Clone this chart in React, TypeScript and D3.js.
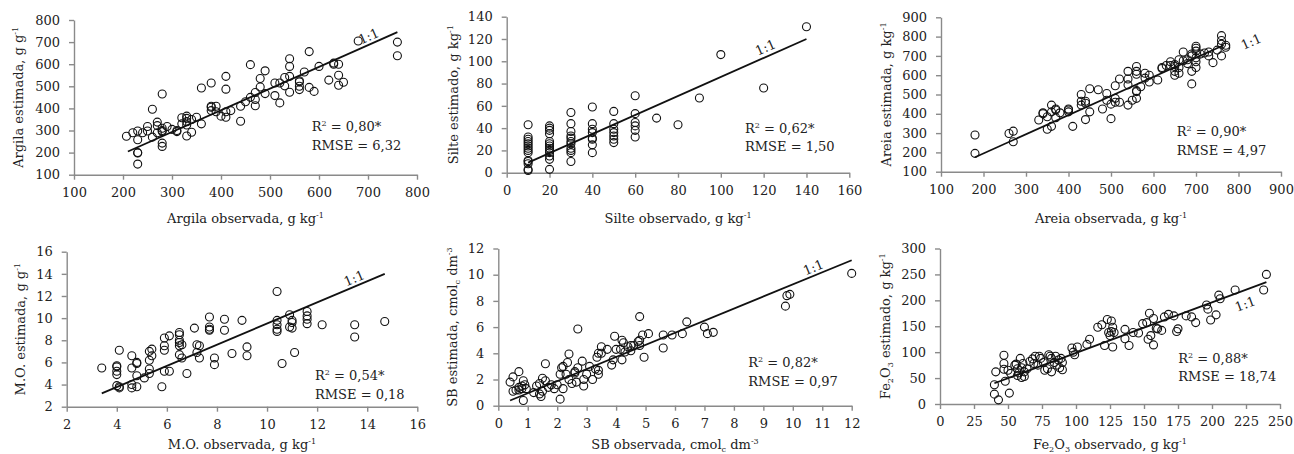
import * as d3 from 'd3'
import { useEffect, useRef } from 'react'

const FONT = '"DejaVu Serif", serif'

// ---- Argila ----
const argilaTicksX = [100, 200, 300, 400, 500, 600, 700, 800]
const argilaTicksY = [100, 200, 300, 400, 500, 600, 700, 800]
const argilaFit = [[210, 205], [760, 745]]
const argilaStats = ['0,80*', '6,32']
const argilaPoints = [
  [207, 274], [220, 290], [230, 298], [230, 258], [230, 200], [230, 198], [230, 148], [240, 290],
  [250, 318], [250, 298], [260, 396], [260, 270], [270, 338], [270, 322], [270, 290], [280, 465],
  [280, 310], [280, 300], [280, 295], [280, 243], [280, 228], [290, 318], [300, 305], [310, 300],
  [310, 295], [320, 358], [320, 330], [330, 365], [330, 355], [330, 340], [330, 325], [330, 275],
  [340, 350], [340, 292], [350, 360], [360, 492], [360, 330], [380, 515], [380, 410], [380, 405],
  [380, 390], [390, 410], [390, 385], [400, 365], [410, 545], [410, 487], [410, 385], [410, 360],
  [420, 390], [440, 410], [440, 342], [450, 430], [460, 598], [460, 450], [470, 472], [470, 440],
  [470, 412], [480, 535], [480, 497], [490, 570], [490, 467], [510, 515], [510, 458], [520, 515],
  [520, 425], [530, 540], [530, 502], [540, 625], [540, 590], [540, 545], [540, 473], [560, 525],
  [560, 520], [560, 500], [560, 485], [570, 565], [580, 657], [580, 495], [590, 477], [600, 590],
  [620, 528], [630, 600], [630, 605], [640, 600], [640, 550], [640, 505], [650, 518], [680, 705],
  [760, 700], [760, 638],
]

// ---- Silte ----
const silteTicksX = [0, 20, 40, 60, 80, 100, 120, 140, 160]
const silteTicksY = [0, 20, 40, 60, 80, 100, 120, 140]
const silteFit = [[10, 9], [140, 120]]
const silteStats = ['0,62*', '1,50']
const silteObs = [10, 20, 30, 40, 50, 60]
const silteEstByObs = [
  [43, 32, 30, 28, 26, 24, 22, 20, 18, 11, 10, 8, 3, 2],
  [42, 40, 38, 35, 28, 26, 24, 22, 20, 18, 15, 12, 3],
  [54, 44, 37, 33, 31, 28, 26, 22, 20, 18, 10],
  [59, 44, 39, 36, 31, 30, 25, 18],
  [55, 44, 39, 36, 33, 30, 27],
  [69, 53, 45, 42, 38, 32],
]
const silteSingles = [[70, 49], [80, 43], [90, 67], [100, 106], [120, 76], [140, 131]]

// ---- Areia ----
const areiaTicksX = [100, 200, 300, 400, 500, 600, 700, 800, 900]
const areiaTicksY = [100, 200, 300, 400, 500, 600, 700, 800, 900]
const areiaFit = [[180, 175], [765, 755]]
const areiaStats = ['0,90*', '4,97']
const areiaPoints = [
  [180, 290], [180, 195], [260, 298], [270, 310], [270, 255], [330, 368], [340, 405], [340, 400],
  [350, 385], [350, 320], [360, 445], [360, 410], [360, 335], [370, 425], [370, 420], [370, 380],
  [380, 405], [400, 425], [400, 420], [400, 410], [410, 335], [430, 500], [430, 465], [430, 445],
  [440, 465], [440, 455], [440, 370], [450, 530], [450, 410], [470, 525], [480, 425], [490, 505],
  [490, 470], [500, 450], [500, 375], [510, 545], [510, 480], [510, 460], [520, 580], [520, 460],
  [540, 620], [540, 580], [540, 550], [540, 445], [550, 470], [560, 645], [560, 620], [560, 605],
  [560, 520], [560, 515], [560, 480], [570, 540], [580, 610], [580, 585], [590, 600], [590, 565],
  [610, 575], [620, 640], [620, 635], [630, 650], [640, 670], [640, 650], [650, 655], [650, 645],
  [650, 620], [650, 600], [660, 680], [660, 640], [660, 610], [670, 720], [670, 675], [680, 680],
  [680, 660], [690, 710], [690, 700], [690, 620], [690, 555], [700, 750], [700, 740], [700, 725],
  [700, 690], [700, 670], [700, 640], [710, 710], [720, 715], [730, 720], [730, 700], [740, 665],
  [750, 730], [760, 805], [760, 780], [760, 760], [760, 700], [770, 755], [770, 745],
]

// ---- M.O. ----
const moTicksX = [2, 4, 6, 8, 10, 12, 14, 16]
const moTicksY = [2, 4, 6, 8, 10, 12, 14, 16]
const moFit = [[3.4, 3.2], [14.7, 14.0]]
const moStats = ['0,54*', '0,18']
const moPoints = [
  [3.4, 5.5], [4.0, 5.7], [4.0, 5.6], [4.0, 5.2], [4.0, 4.9], [4.0, 3.9], [4.1, 7.1], [4.1, 3.8],
  [4.1, 3.7], [4.6, 6.6], [4.6, 5.5], [4.6, 4.0], [4.6, 3.7], [4.8, 6.0], [4.8, 5.9], [4.8, 4.8],
  [4.8, 3.8], [5.1, 4.6], [5.3, 7.0], [5.3, 6.2], [5.3, 5.4], [5.3, 5.0], [5.4, 7.2], [5.4, 6.6],
  [5.8, 3.8], [5.9, 8.2], [5.9, 7.5], [5.9, 7.1], [5.9, 5.2], [6.1, 8.4], [6.1, 5.2], [6.5, 8.7],
  [6.5, 8.5], [6.5, 8.0], [6.5, 7.8], [6.5, 7.5], [6.5, 6.7], [6.6, 7.6], [6.6, 6.4], [6.8, 5.0],
  [7.1, 9.1], [7.2, 7.6], [7.2, 6.9], [7.3, 7.5], [7.3, 6.4], [7.7, 10.1], [7.7, 9.2], [7.7, 9.0],
  [7.7, 8.9], [7.9, 6.4], [7.9, 5.8], [8.3, 9.9], [8.3, 8.9], [8.6, 6.8], [9.0, 9.8], [9.2, 7.4],
  [9.2, 6.6], [10.4, 12.4], [10.4, 9.8], [10.4, 9.4], [10.4, 9.0], [10.4, 8.8], [10.6, 5.9],
  [10.9, 10.3], [10.9, 9.2], [11.0, 9.8], [11.0, 9.6], [11.0, 9.1], [11.1, 6.9], [11.6, 10.6],
  [11.6, 10.2], [11.6, 9.9], [11.6, 9.5], [12.2, 9.4], [13.5, 9.4], [13.5, 8.3], [14.7, 9.7],
]

// ---- SB ----
const sbTicksX = [0, 1, 2, 3, 4, 5, 6, 7, 8, 9, 10, 11, 12]
const sbTicksY = [0, 2, 4, 6, 8, 10, 12]
const sbFit = [[0.4, 0.4], [12.0, 11.1]]
const sbStats = ['0,82*', '0,97']
const sbPoints = [
  [0.4, 1.8], [0.5, 2.2], [0.5, 1.1], [0.6, 1.2], [0.7, 2.6], [0.7, 1.4], [0.7, 1.2], [0.8, 1.5],
  [0.8, 1.3], [0.85, 1.9], [0.85, 0.4], [0.9, 1.6], [0.95, 1.3], [1.2, 1.0], [1.3, 1.5], [1.4, 1.7],
  [1.4, 0.9], [1.45, 0.7], [1.5, 2.1], [1.5, 1.1], [1.6, 3.2], [1.6, 1.9], [1.7, 1.4], [1.8, 1.6],
  [1.9, 1.3], [2.0, 1.6], [2.1, 2.4], [2.1, 0.5], [2.15, 2.9], [2.2, 3.0], [2.2, 1.3], [2.3, 2.4],
  [2.35, 3.3], [2.4, 3.95], [2.4, 2.0], [2.5, 1.7], [2.6, 2.6], [2.6, 2.5], [2.65, 1.8], [2.7, 5.85],
  [2.7, 2.9], [2.85, 3.4], [2.9, 2.0], [2.9, 1.5], [3.0, 2.4], [3.1, 3.0], [3.2, 2.0], [3.3, 2.8],
  [3.35, 3.7], [3.4, 4.0], [3.4, 2.7], [3.4, 2.4], [3.5, 4.5], [3.5, 4.0], [3.7, 4.3], [3.85, 3.1],
  [3.9, 3.5], [3.95, 5.3], [4.0, 4.3], [4.15, 4.3], [4.2, 5.0], [4.25, 4.8], [4.2, 3.5], [4.3, 4.1],
  [4.4, 4.5], [4.5, 4.6], [4.5, 4.2], [4.6, 4.6], [4.75, 4.9], [4.8, 6.8], [4.8, 5.0], [4.8, 4.6],
  [4.9, 5.4], [4.95, 3.7], [5.1, 5.5], [5.6, 5.4], [5.6, 4.4], [5.9, 5.4], [6.25, 5.5], [6.4, 6.4],
  [7.0, 6.0], [7.1, 5.5], [7.3, 5.6], [9.75, 7.6], [9.8, 8.4], [9.9, 8.5], [12.0, 10.1],
]

// ---- Fe2O3 ----
const feTicksX = [0, 25, 50, 75, 100, 125, 150, 175, 200, 225, 250]
const feTicksY = [0, 50, 100, 150, 200, 250, 300]
const feFit = [[40, 40], [240, 235]]
const feStats = ['0,88*', '18,74']
const fePoints = [
  [40, 37], [40, 19], [41, 62], [43, 8], [47, 94], [47, 78], [47, 67], [48, 44], [50, 65], [51, 21],
  [52, 59], [55, 75], [56, 77], [57, 68], [57, 55], [58, 60], [59, 88], [60, 70], [60, 51], [61, 78],
  [62, 62], [62, 53], [64, 68], [66, 82], [68, 87], [69, 78], [70, 92], [72, 75], [73, 92], [74, 88],
  [76, 80], [77, 65], [79, 68], [80, 95], [81, 92], [82, 88], [82, 62], [84, 80], [85, 92], [86, 75],
  [87, 85], [88, 70], [89, 88], [90, 80], [90, 66], [97, 108], [98, 100], [99, 95], [101, 110],
  [108, 115], [110, 125], [116, 148], [119, 153], [121, 113], [123, 163], [124, 138], [125, 132],
  [126, 160], [126, 140], [127, 148], [127, 110], [128, 138], [136, 144], [136, 126], [139, 113],
  [142, 138], [146, 137], [149, 155], [152, 157], [153, 125], [154, 175], [155, 132], [157, 165],
  [157, 114], [159, 146], [160, 145], [163, 142], [165, 168], [168, 173], [172, 170], [174, 140],
  [175, 145], [181, 170], [185, 168], [188, 157], [196, 191], [197, 183], [199, 162], [203, 172],
  [205, 210], [206, 203], [217, 220], [238, 220], [240, 250],
]

const sup = (t) => [t, 'sup']
const sub = (t) => [t, 'sub']
const txt = (t) => [t, '']

const panels = [
  {
    points: argilaPoints, fit: argilaFit, stats: argilaStats,
    xTicks: argilaTicksX, yTicks: argilaTicksY,
    xTitle: [txt('Argila observada, g kg'), sup('-1')],
    yTitle: [txt('Argila estimada, g g'), sup('-1')],
    box: { left: 74, right: 417, top: 20, bottom: 174.7 },
    yTitleX: 22.5, xTitleY: 223, statX: 311.7, statY: 131.2, labelX: 708, labelOff: 8,
  },
  {
    points: [...silteObs.flatMap((o, i) => silteEstByObs[i].map((e) => [o, e])), ...silteSingles],
    fit: silteFit, stats: silteStats,
    xTicks: silteTicksX, yTicks: silteTicksY,
    xTitle: [txt('Silte observado, g kg'), sup('-1')],
    yTitle: [txt('Silte estimado, g kg'), sup('-1')],
    box: { left: 506.7, right: 849.3, top: 16.7, bottom: 172.7 },
    yTitleX: 457.5, xTitleY: 223, statX: 745, statY: 132.8, labelX: 122.5, labelOff: 9,
  },
  {
    points: areiaPoints, fit: areiaFit, stats: areiaStats,
    xTicks: areiaTicksX, yTicks: areiaTicksY,
    xTitle: [txt('Areia observada, g kg'), sup('-1')],
    yTitle: [txt('Areia estimada, g kg'), sup('-1')],
    box: { left: 941, right: 1281, top: 17.3, bottom: 171.7 },
    yTitleX: 890.5, xTitleY: 223, statX: 1176.7, statY: 136.2, labelX: 822, labelOff: -8,
  },
  {
    points: moPoints, fit: moFit, stats: moStats,
    xTicks: moTicksX, yTicks: moTicksY,
    xTitle: [txt('M.O. observada, g kg'), sup('-1')],
    yTitle: [txt('M.O. estimada, g g'), sup('-1')],
    box: { left: 66.7, right: 417.3, top: 251.7, bottom: 406.7 },
    yTitleX: 25, xTitleY: 449, statX: 315, statY: 380.2, labelX: 13.6, labelOff: 8,
  },
  {
    points: sbPoints, fit: sbFit, stats: sbStats,
    xTicks: sbTicksX, yTicks: sbTicksY,
    xTitle: [txt('SB observada, cmol'), sub('c'), txt(' dm'), sup('-3')],
    yTitle: [txt('SB estimada, cmol'), sub('c'), txt(' dm'), sup('-3')],
    box: { left: 498.3, right: 851.7, top: 248.5, bottom: 405.7 },
    yTitleX: 457, xTitleY: 449, statX: 748.3, statY: 367.2, labelX: 10.8, labelOff: 8,
  },
  {
    points: fePoints, fit: feFit, stats: feStats,
    xTicks: feTicksX, yTicks: feTicksY,
    xTitle: [txt('Fe'), sub('2'), txt('O'), sub('3'), txt(' observado, g kg'), sup('-1')],
    yTitle: [txt('Fe'), sub('2'), txt('O'), sub('3'), txt(' estimado, g kg'), sup('-1')],
    box: { left: 940, right: 1280, top: 248.5, bottom: 404 },
    yTitleX: 890, xTitleY: 449, statX: 1178.3, statY: 362.8, labelX: 221, labelOff: -13,
  },
]

function writeParts(sel, parts, size) {
  let shift = 0
  parts.forEach(([t, k]) => {
    const target = k === 'sup' ? -5 : k === 'sub' ? 2.5 : 0
    sel
      .append('tspan')
      .attr('dy', target - shift)
      .attr('font-size', k ? size * 0.62 : size)
      .text(t)
    shift = target
  })
}

const Panel = ({ p }) => {
  const ref = useRef(null)

  useEffect(() => {
    const g = d3.select(ref.current)
    g.selectAll('*').remove()
    const { left, right, top, bottom } = p.box
    const x = d3.scaleLinear().domain(d3.extent(p.xTicks)).range([left, right])
    const y = d3.scaleLinear().domain(d3.extent(p.yTicks)).range([bottom, top])
    const fs = 13

    // axes
    const xa = g
      .append('g')
      .attr('transform', `translate(0, ${bottom})`)
      .call(d3.axisBottom(x).tickValues(p.xTicks).tickSize(5).tickSizeOuter(0).tickPadding(8))
    const ya = g
      .append('g')
      .attr('transform', `translate(${left}, 0)`)
      .call(d3.axisLeft(y).tickValues(p.yTicks).tickSize(5).tickSizeOuter(0).tickPadding(9))
    ;[xa, ya].forEach((a) => {
      a.select('.domain').attr('stroke', '#8a8a8a').attr('stroke-width', 1.4)
      a.selectAll('.tick line').attr('stroke', '#8a8a8a').attr('stroke-width', 1.4)
      a.selectAll('.tick text').attr('fill', '#222').style('font-family', FONT).style('font-size', fs + 'px')
    })
    xa.attr('font-size', null).attr('font-family', null)
    ya.attr('font-size', null).attr('font-family', null)

    // fitted line
    const [[x0, y0], [x1, y1]] = p.fit
    g.append('line')
      .attr('x1', x(x0)).attr('y1', y(y0))
      .attr('x2', x(x1)).attr('y2', y(y1))
      .attr('stroke', '#111')
      .attr('stroke-width', 1.8)

    // points
    g.append('g')
      .selectAll('circle')
      .data(p.points)
      .join('circle')
      .attr('cx', (d) => x(d[0]))
      .attr('cy', (d) => y(d[1]))
      .attr('r', 4)
      .attr('fill', 'none')
      .attr('stroke', '#111')
      .attr('stroke-width', 1.1)

    // 1:1 label along the line
    const slope = (y1 - y0) / (x1 - x0)
    const lx = x(p.labelX)
    const ly = y(y0 + slope * (p.labelX - x0))
    const ang = (Math.atan2(y(y1) - y(y0), x(x1) - x(x0)) * 180) / Math.PI
    const nx = Math.sin((ang * Math.PI) / 180) * p.labelOff
    const ny = -Math.cos((ang * Math.PI) / 180) * p.labelOff
    g.append('text')
      .attr('transform', `translate(${lx + nx}, ${ly + ny}) rotate(${ang})`)
      .attr('text-anchor', 'middle')
      .attr('dy', '0.35em')
      .style('font-family', FONT)
      .style('font-size', fs + 'px')
      .attr('fill', '#222')
      .text('1:1')

    // stats
    const st = g
      .append('text')
      .style('font-family', FONT)
      .style('font-size', fs + 'px')
      .attr('fill', '#222')
    st.append('tspan').attr('x', p.statX).attr('y', p.statY).text('R')
    st.append('tspan').attr('dy', -5).style('font-size', '8px').text('2')
    st.append('tspan').attr('dy', 5).text(' = ' + p.stats[0])
    g.append('text')
      .attr('x', p.statX)
      .attr('y', p.statY + 18.5)
      .style('font-family', FONT)
      .style('font-size', fs + 'px')
      .attr('fill', '#222')
      .text('RMSE = ' + p.stats[1])

    // titles
    const xt = g
      .append('text')
      .attr('x', (left + right) / 2)
      .attr('y', p.xTitleY)
      .attr('text-anchor', 'middle')
      .style('font-family', FONT)
      .attr('fill', '#222')
    writeParts(xt, p.xTitle, fs)

    const yt = g
      .append('text')
      .attr('transform', `translate(${p.yTitleX}, ${(top + bottom) / 2}) rotate(-90)`)
      .attr('text-anchor', 'middle')
      .style('font-family', FONT)
      .attr('fill', '#222')
    writeParts(yt, p.yTitle, fs)
  }, [p])

  return <g ref={ref}></g>
}

export default function App() {
  return (
    <svg
      width={1294}
      height={454}
      style={{ position: 'absolute', left: 0, top: 0, background: '#fff' }}
    >
      {panels.map((p, i) => (
        <Panel key={i} p={p} />
      ))}
    </svg>
  )
}
